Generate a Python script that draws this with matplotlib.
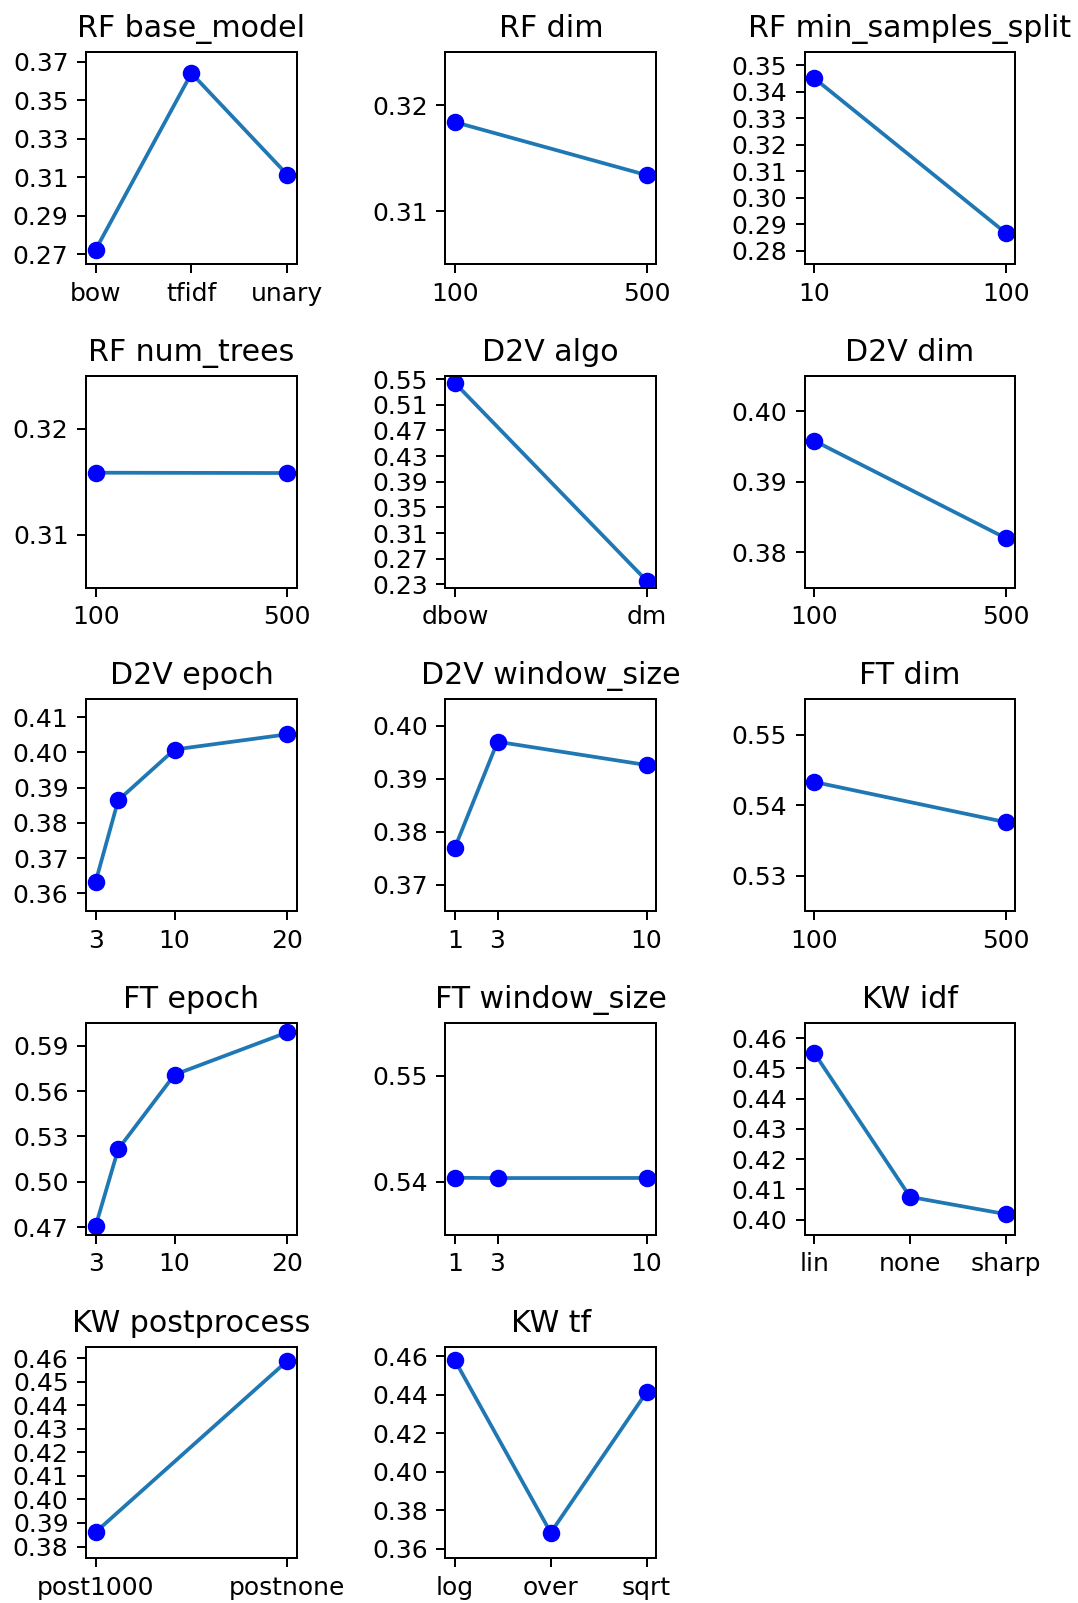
import numpy as np
import matplotlib
matplotlib.use('Agg')
import matplotlib.pyplot as plt
from matplotlib.ticker import FormatStrFormatter

# one entry per panel
titles = ['RF base_model', 'RF dim', 'RF min_samples_split',
          'RF num_trees', 'D2V algo', 'D2V dim',
          'D2V epoch', 'D2V window_size', 'FT dim',
          'FT epoch', 'FT window_size', 'KW idf',
          'KW postprocess', 'KW tf']

# x values: strings are categorical, numbers are numeric
xs = [['bow', 'tfidf', 'unary'],
      [100, 500],
      [10, 100],
      [100, 500],
      ['dbow', 'dm'],
      [100, 500],
      [3, 5, 10, 20],
      [1, 3, 10],
      [100, 500],
      [3, 5, 10, 20],
      [1, 3, 10],
      ['lin', 'none', 'sharp'],
      ['post1000', 'postnone'],
      ['log', 'over', 'sqrt']]

ys = [[0.2724, 0.3641, 0.3114],
      [0.3184, 0.3134],
      [0.3452, 0.2867],
      [0.31585, 0.31582],
      [0.5438, 0.2357],
      [0.3958, 0.3820],
      [0.3633, 0.3864, 0.4008, 0.4051],
      [0.3770, 0.3970, 0.3926],
      [0.5433, 0.5376],
      [0.4707, 0.5215, 0.5708, 0.5988],
      [0.54038, 0.54035, 0.54036],
      [0.4551, 0.4075, 0.4018],
      [0.3861, 0.4589],
      [0.4578, 0.3683, 0.4413]]

# x ticks shown for numeric panels
xticks = [None, [100, 500], [10, 100], [100, 500], None, [100, 500],
          [3, 10, 20], [1, 3, 10], [100, 500], [3, 10, 20], [1, 3, 10],
          None, None, None]

# y tick step per panel
ysteps = [0.02, 0.01, 0.01, 0.01, 0.04, 0.01, 0.01, 0.01, 0.01,
          0.03, 0.01, 0.01, 0.01, 0.02]

fig, axes = plt.subplots(5, 3, figsize=(1078/180, 1603/180), dpi=180)
fig.subplots_adjust(left=0.0798, right=0.942, top=0.9674, bottom=0.0279,
                    wspace=0.704, hspace=0.528)
axes = axes.flatten()

for i in range(len(titles)):
    ax = axes[i]
    x = xs[i]
    y = ys[i]
    if isinstance(x[0], str):
        pos = list(range(len(x)))
        ax.set_xticks(pos)
        ax.set_xticklabels(x)
    else:
        pos = x
        ax.set_xticks(xticks[i])
    ax.plot(pos, y, color='C0')
    ax.plot(pos, y, 'o', color='blue')
    lo = np.floor(min(y) * 100) / 100
    hi = np.ceil(max(y) * 100) / 100
    ax.set_yticks(np.arange(lo, hi + ysteps[i] / 2, ysteps[i]))
    ax.set_ylim(lo - 0.005, hi + 0.005)
    ax.yaxis.set_major_formatter(FormatStrFormatter('%.2f'))
    ax.set_title(titles[i])

axes[-1].axis('off')

fig.savefig('out.png', dpi=180)
